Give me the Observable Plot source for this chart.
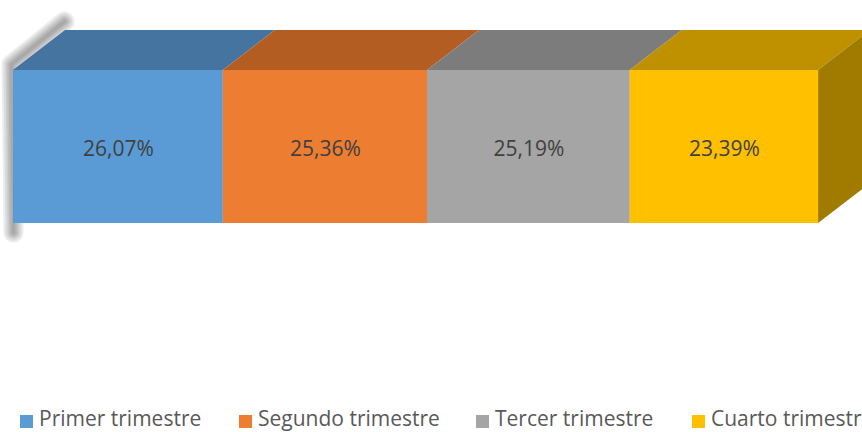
<!DOCTYPE html>
<html>
<head>
<meta charset="utf-8">
<script src="https://cdn.jsdelivr.net/npm/d3@7"></script>
<script src="https://cdn.jsdelivr.net/npm/@observablehq/plot@0.6"></script>
<style>
  html, body { margin: 0; padding: 0; background: #fff; overflow: hidden; }
  #chart { width: 862px; height: 432px; position: relative; overflow: hidden; }
  .legend { position: absolute; left: 0; top: 404px; height: 28px; white-space: nowrap;
            font-family: "Open Sans", sans-serif; font-size: 21px; color: #595959; }
  .legend .item { position: absolute; top: 0; display: flex; align-items: center; }
  .legend .sw { width: 13px; height: 13px; display: inline-block; margin-right: 6px; margin-top: 6px; }
</style>
</head>
<body>
<div id="chart"></div>
<script>
// ---- data ----
const categories = ["Primer trimestre", "Segundo trimestre", "Tercer trimestre", "Cuarto trimestre"];
const values = [26.07, 25.36, 25.19, 23.39];
const labels = ["26,07%", "25,36%", "25,19%", "23,39%"];
const frontColors = ["#5B9BD5", "#ED7D31", "#A5A5A5", "#FFC000"];
const topColors = ["#44749F", "#B45D22", "#7C7C7C", "#BF9000"];
const sideColor = "#A17A00";

// ---- geometry (3D depth in data units) ----
const W = 862, H = 404;
const x0 = 13, x1px = 818, yTop = 70, yBot = 223;
const mLeft = x0, mRight = W - x1px, mTop = yTop, mBottom = H - yBot;
const ux = px => (px - x0) / (x1px - x0) * 100;   // pixel -> x units (for decorations)
const uy = py => (yBot - py) / (yBot - yTop);      // pixel -> y units (for decorations)
const depthX = ux(x0 + 52);
const depthY = 40 / (yBot - yTop);

let acc = 0;
const segs = categories.map((c, i) => {
  const s = {cat: c, x1: acc, x2: acc + values[i], label: labels[i], i};
  acc += values[i];
  return s;
});
const total = acc;

// top face parallelograms
const topPts = segs.flatMap(s => [
  {cat: s.cat, y: 1, x1: s.x1, x2: s.x2},
  {cat: s.cat, y: 1 + depthY, x1: s.x1 + depthX, x2: s.x2 + depthX}
]);
// right side face
const sidePts = [
  {x: total, y1: 0, y2: 1},
  {x: total + depthX, y1: depthY, y2: 1 + depthY}
];
// soft shadow along the left / top-left edge
const shadowPts = [
  {x: ux(13), y: uy(232)},
  {x: ux(11), y: uy(64)},
  {x: ux(64), y: uy(21)}
];
const shadowLayers = [20, 16, 12, 9, 6, 3];

const plot = Plot.plot({
  width: W,
  height: H,
  marginLeft: mLeft,
  marginRight: mRight,
  marginTop: mTop,
  marginBottom: mBottom,
  x: {domain: [0, 100], axis: null},
  y: {domain: [0, 1], axis: null},
  style: {background: "transparent", overflow: "visible"},
  marks: [
    ...shadowLayers.map(w => Plot.line(shadowPts, {x: "x", y: "y", stroke: "#606060",
      strokeWidth: w, strokeOpacity: 0.12, strokeLinejoin: "round", strokeLinecap: "round"})),
    Plot.areaX(topPts, {y: "y", x1: "x1", x2: "x2", z: "cat",
      fill: d => topColors[categories.indexOf(d.cat)], curve: "linear"}),
    Plot.areaY(sidePts, {x: "x", y1: "y1", y2: "y2", fill: sideColor, curve: "linear"}),
    Plot.rectX(segs, {x1: "x1", x2: "x2", y1: 0, y2: 1, fill: d => frontColors[d.i]}),
    Plot.text(segs, {x: d => (d.x1 + d.x2) / 2, y: 0.5, dy: 2, text: "label",
      fill: "#404040", fontSize: 21, fontFamily: "Open Sans", textAnchor: "middle"})
  ]
});
document.getElementById("chart").appendChild(plot);

// ---- legend ----
const legendX = [20, 239, 476, 692];
const lg = document.createElement("div");
lg.className = "legend";
categories.forEach((c, i) => {
  const it = document.createElement("div");
  it.className = "item";
  it.style.left = legendX[i] + "px";
  it.innerHTML = `<span class="sw" style="background:${frontColors[i]}"></span><span>${c}</span>`;
  lg.appendChild(it);
});
document.getElementById("chart").appendChild(lg);
</script>
</body>
</html>
